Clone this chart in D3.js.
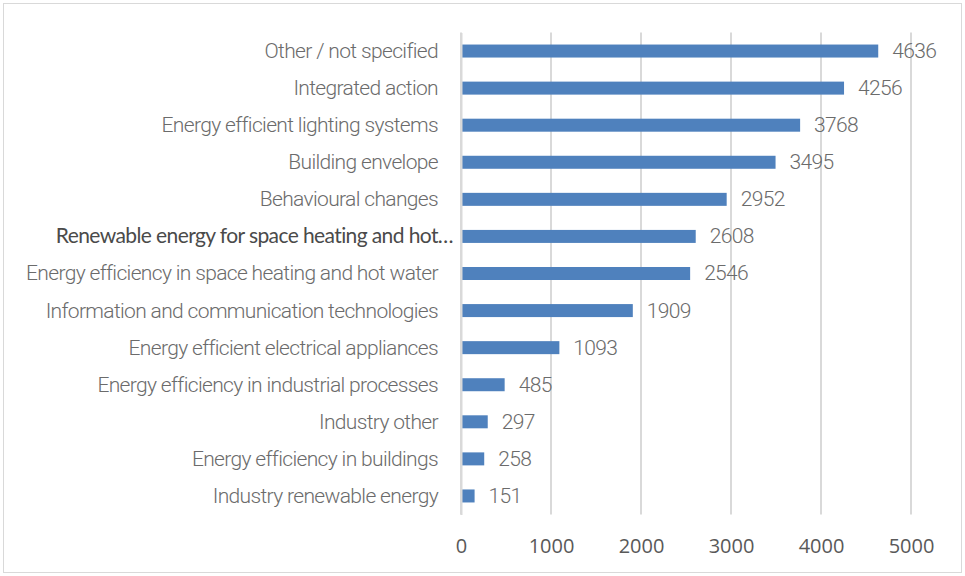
<!DOCTYPE html>
<html>
<head>
<meta charset="utf-8">
<style>
	body { margin: 0; background: #fff; }
	svg { display: block; }
	.cat text, .val { font-family: Roboto, sans-serif; font-weight: 300; fill: #6b6b6b; letter-spacing: -0.65px; }
	.xaxis text { font-family: "Open Sans", sans-serif; fill: #595959; }
</style>
</head>
<body>
<div id="chart"></div>
<script src="https://d3js.org/d3.v7.min.js"></script>
<script>
	// data
	const categories = [
		"Other / not specified",
		"Integrated action",
		"Energy efficient lighting systems",
		"Building envelope",
		"Behavioural changes",
		"Renewable energy for space heating and hot\u2026",
		"Energy efficiency in space heating and hot water",
		"Information and communication technologies",
		"Energy efficient electrical appliances",
		"Energy efficiency in industrial processes",
		"Industry other",
		"Energy efficiency in buildings",
		"Industry renewable energy"
	];
	const values = [4636, 4256, 3768, 3495, 2952, 2608, 2546, 1909, 1093, 485, 297, 258, 151];
	const xTicks = [0, 1000, 2000, 3000, 4000, 5000];

	const W = 965, H = 576;
	const margin = { top: 32.5, right: 54, bottom: 61.5, left: 461 };

	const svg = d3.select("#chart").append("svg")
		.attr("width", W)
		.attr("height", H);

	// outer frame
	svg.append("rect")
		.attr("x", 3.5).attr("y", 3.5)
		.attr("width", W - 7).attr("height", H - 7)
		.attr("fill", "#fff")
		.attr("stroke", "#d9d9d9");

	const x = d3.scaleLinear().domain([0, 5000]).range([margin.left, W - margin.right]);
	const y = d3.scaleBand().domain(categories).range([margin.top, H - margin.bottom]);

	// vertical gridlines
	svg.append("g")
		.selectAll("line")
		.data(xTicks)
		.join("line")
		.attr("x1", d => x(d)).attr("x2", d => x(d))
		.attr("y1", margin.top).attr("y2", H - margin.bottom)
		.attr("stroke", "#d9d9d9")
		.attr("stroke-width", 2);

	const barH = 13;
	svg.append("g")
		.selectAll("rect")
		.data(values)
		.join("rect")
		.attr("x", x(0))
		.attr("y", (d, i) => y(categories[i]) + y.bandwidth() / 2 - barH / 2)
		.attr("width", d => x(d) - x(0))
		.attr("height", barH)
		.attr("fill", "#4f81bd");

	// value labels
	svg.append("g")
		.selectAll("text")
		.data(values)
		.join("text")
		.attr("class", "val")
		.attr("x", d => x(d) + 14)
		.attr("y", (d, i) => y(categories[i]) + y.bandwidth() / 2)
		.attr("dy", "0.33em")
		.style("font-size", "21px")
		.text(d => d);

	// category axis
	const yAxis = svg.append("g")
		.attr("class", "cat")
		.attr("transform", `translate(${x(0)},0)`)
		.call(d3.axisLeft(y).tickSize(0).tickPadding(23));
	yAxis.select(".domain").attr("stroke", "#d9d9d9").attr("stroke-width", 2);
	yAxis.selectAll("text")
		.style("font-size", "21px")
		.attr("dy", "0.33em");
	// the truncated label is drawn in a darker, regular face
	yAxis.selectAll(".tick text")
		.filter((d, i) => i === 5)
		.style("font-family", "Lato, sans-serif")
		.style("font-weight", 400)
		.style("letter-spacing", "-0.6px")
		.style("fill", "#4a4a4a")
		.attr("x", -8);

	// value axis
	const xAxis = svg.append("g")
		.attr("class", "xaxis")
		.attr("transform", `translate(0,${H - margin.bottom})`)
		.call(d3.axisBottom(x).tickValues(xTicks).tickFormat(d3.format("d")).tickSize(0).tickPadding(24));
	xAxis.select(".domain").remove();
	xAxis.selectAll("text").style("font-size", "20px");
</script>
</body>
</html>
